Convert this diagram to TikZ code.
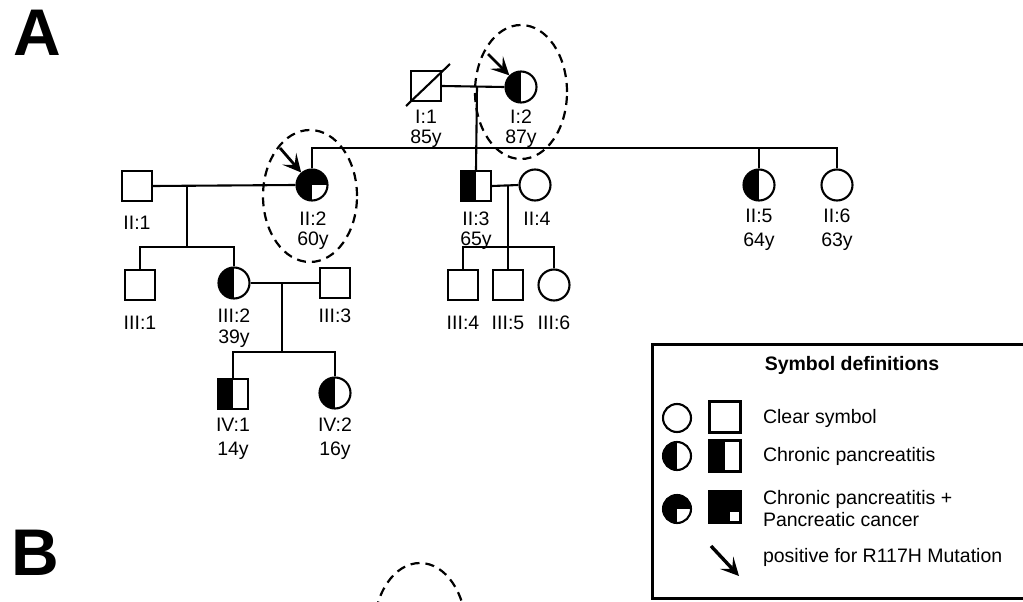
\documentclass[tikz,border=0pt]{standalone}
\usepackage{fontspec}
\setmainfont{Liberation Sans}
\usetikzlibrary{arrows.meta,calc,shapes.geometric}
\begin{document}
\begin{tikzpicture}[x=1pt,y=-1pt,line width=2.1pt,
  sq/.style={draw,rectangle,minimum size=30pt,inner sep=0pt},
  ci/.style={draw,circle,minimum size=31pt,inner sep=0pt},
  lsq/.style={draw,rectangle,minimum size=31pt,inner sep=0pt},
  lci/.style={draw,circle,minimum size=28pt,inner sep=0pt},
  lefthalf/.style={path picture={\fill[black] (path picture bounding box.south west) rectangle (path picture bounding box.north);}},
  threeq/.style={path picture={\fill[black] (path picture bounding box.south west) rectangle (path picture bounding box.north east);
     \fill[white] (path picture bounding box.center) rectangle (path picture bounding box.south east);}},
  cornerq/.style={path picture={\fill[black] (path picture bounding box.south west) rectangle (path picture bounding box.north east);
     \fill[white] ([xshift=-11pt,yshift=11pt]path picture bounding box.south east) rectangle ([xshift=-2pt,yshift=2pt]path picture bounding box.south east);}},
  lab/.style={font=\fontsize{19.5}{22}\selectfont,inner sep=0pt,anchor=base},
  leg/.style={font=\fontsize{19.5}{22}\selectfont,inner sep=0pt,anchor=west,align=left},
  ptr/.style={-{Stealth[length=18pt,width=18pt,inset=8pt]},line width=2.8pt},
  ring/.style={draw,dashed,dash pattern=on 9pt off 6pt,line width=2.2pt,ellipse,inner sep=0pt},
  panel/.style={font=\bfseries\fontsize{66}{66}\selectfont,inner sep=0pt}]
\useasboundingbox (0,0) rectangle (1023,602);

% panel letters
\node[panel] (pA) at (37,33) {A};
\node[panel] (pB) at (35,553) {B};

% generation I
\node[sq] (I1) at (426,86) {};
\node[ci,lefthalf] (I2) at (521,87) {};
\draw ([shift={(-20,20)}]I1.center) -- ([shift={(24,-22)}]I1.center);
% generation II
\node[sq] (II1) at (137,186) {};
\node[ci,threeq] (II2) at (312,185) {};
\node[sq,lefthalf] (II3) at (476,186) {};
\node[ci] (II4) at (535,185) {};
\node[ci,lefthalf] (II5) at (759,185) {};
\node[ci] (II6) at (837,185) {};
% generation III
\node[sq] (III1) at (140,285) {};
\node[ci,lefthalf] (III2) at (234,283) {};
\node[sq] (III3) at (335,283) {};
\node[sq] (III4) at (463,285) {};
\node[sq] (III5) at (508,285) {};
\node[ci] (III6) at (554,285) {};
% generation IV
\node[sq,lefthalf] (IV1) at (233,394) {};
\node[ci,lefthalf] (IV2) at (335,393) {};

% lines
\coordinate (d1) at (477,87);
\coordinate (s1) at (477,148);
\draw (I1.east) -- (I2.west);
\draw (d1) -- (II3.north);
\draw (II2.north) -- (II2.north |- s1) -- (II6.north |- s1) -- (II6.north);
\draw (II5.north) -- (II5.north |- s1);

\coordinate (d2) at (187,185);
\coordinate (s2) at (187,247);
\draw (II1.east) -- (II2.west);
\draw (d2) -- (s2);
\draw (III1.north) -- (III1.north |- s2) -- (III2.north |- s2) -- (III2.north);

\coordinate (d3) at (508,185);
\coordinate (s3) at (508,247);
\draw (II3.east) -- (II4.west);
\draw (d3) -- (III5.north);
\draw (III4.north) -- (III4.north |- s3) -- (III6.north |- s3) -- (III6.north);

\coordinate (d4) at (282,283);
\coordinate (s4) at (282,352);
\draw (III2.east) -- (III3.west);
\draw (d4) -- (s4);
\draw (IV1.north) -- (IV1.north |- s4) -- (IV2.north |- s4) -- (IV2.north);

% rings and arrows
\node[ring,minimum width=92pt,minimum height=134pt] (r1) at (521,92) {};
\node[ring,minimum width=94pt,minimum height=132pt] (r2) at (310,196) {};
\node[ring,minimum width=92pt,minimum height=134pt] (r3) at (420,630) {};
\coordinate (a1) at (488,54);
\coordinate (a2) at (280,148);
\draw[ptr] (a1) -- (I2);
\draw[ptr] (a2) -- (II2);

% labels
\node[lab] (lI1) at (426,123) {I:1};
\node[lab] (aI1) at (426,143) {85y};
\node[lab] (lI2) at (521,123) {I:2};
\node[lab] (aI2) at (521,143) {87y};
\node[lab] (lII1) at (137,229) {II:1};
\node[lab] (lII2) at (313,225) {II:2};
\node[lab] (aII2) at (313,245) {60y};
\node[lab] (lII3) at (476,225) {II:3};
\node[lab] (aII3) at (476,245) {65y};
\node[lab] (lII4) at (537,225) {II:4};
\node[lab] (lII5) at (759,222) {II:5};
\node[lab] (aII5) at (759,246) {64y};
\node[lab] (lII6) at (837,222) {II:6};
\node[lab] (aII6) at (837,246) {63y};
\node[lab] (lIII1) at (140,329) {III:1};
\node[lab] (lIII2) at (234,322) {III:2};
\node[lab] (aIII2) at (234,343) {39y};
\node[lab] (lIII3) at (335,322) {III:3};
\node[lab] (lIII4) at (463,329) {III:4};
\node[lab] (lIII5) at (508,329) {III:5};
\node[lab] (lIII6) at (554,329) {III:6};
\node[lab] (lIV1) at (233,431) {IV:1};
\node[lab] (aIV1) at (233,455) {14y};
\node[lab] (lIV2) at (335,431) {IV:2};
\node[lab] (aIV2) at (335,455) {16y};

% legend
\node[draw,line width=3pt,inner sep=0pt,minimum width=384pt,minimum height=254pt,anchor=north west] (box) at (651,343) {};
\node[font=\bfseries\fontsize{19.5}{22}\selectfont,inner sep=0pt] (title) at (852,365) {Symbol definitions};
\node[lci] (k1c) at (677,418) {};
\node[lsq] (k1s) at (725,417) {};
\node[leg] (k1t) at (762,418) {Clear symbol};
\node[lci,lefthalf] (k2c) at (677,456) {};
\node[lsq,lefthalf] (k2s) at (725,456) {};
\node[leg] (k2t) at (762,456) {Chronic pancreatitis};
\node[lci,threeq] (k3c) at (677,509) {};
\node[lsq,cornerq] (k3s) at (725,507) {};
\node[leg] (k3t) at (762,509) {Chronic pancreatitis +\\Pancreatic cancer};
\coordinate (la1) at (711,546);
\coordinate (la2) at (739,576);
\draw[ptr,line width=3.4pt] (la1) -- (la2);
\node[leg] (k4t) at (762,557) {positive for R117H Mutation};
\end{tikzpicture}
\end{document}
